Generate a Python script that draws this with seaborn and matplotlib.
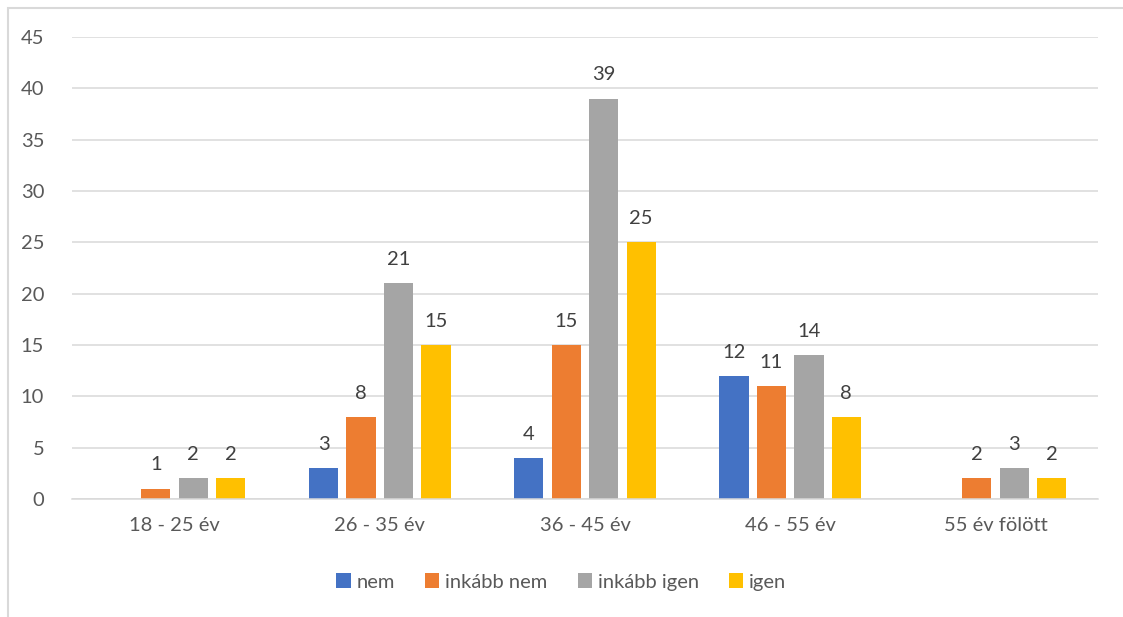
import matplotlib
matplotlib.use("Agg")
import matplotlib.pyplot as plt
from matplotlib.patches import Rectangle
import seaborn as sns
import pandas as pd

categories = ["18 - 25 év", "26 - 35 év", "36 - 45 év", "46 - 55 év", "55 év fölött"]
series = ["nem", "inkább nem", "inkább igen", "igen"]
nem = [0, 3, 4, 12, 0]
inkabb_nem = [1, 8, 15, 11, 2]
inkabb_igen = [2, 21, 39, 14, 3]
igen = [2, 15, 25, 8, 2]
colors = ["#4472C4", "#ED7D31", "#A5A5A5", "#FFC000"]

values = [nem, inkabb_nem, inkabb_igen, igen]
rows = []
for s, vals in zip(series, values):
    for c, v in zip(categories, vals):
        rows.append({"cat": c, "series": s, "val": v})
df = pd.DataFrame(rows)

sns.set_theme(style="white")
plt.rcParams["font.family"] = ["Lato", "DejaVu Sans"]

fig = plt.figure(figsize=(11.23, 6.17), dpi=100)
ax = fig.add_axes([72/1123, 118/617, 1026/1123, 462/617])

sns.barplot(data=df, x="cat", y="val", hue="series", order=categories,
            hue_order=series, palette=colors, width=0.73, gap=0.22,
            saturation=1, linewidth=0, ax=ax, legend=True)

for cont, vals in zip(ax.containers, values):
    labels = [f"{v:g}" if v > 0 else "" for v in vals]
    ax.bar_label(cont, labels=labels, padding=11, fontsize=14.5, color="#404040")

ax.set_ylim(0, 45)
ax.set_yticks(range(0, 46, 5))
ax.set_xlim(-0.5, len(categories) - 0.5)
ax.yaxis.grid(True, color="#D9D9D9", linewidth=1.1)
ax.set_axisbelow(True)
for sp in ["top", "right", "left"]:
    ax.spines[sp].set_visible(False)
ax.spines["bottom"].set_color("#D9D9D9")
ax.spines["bottom"].set_linewidth(1.1)
ax.tick_params(axis="both", length=0, labelsize=14.5, colors="#595959")
ax.tick_params(axis="x", pad=13)
ax.tick_params(axis="y", pad=20)
ax.set_xlabel("")
ax.set_ylabel("")

handles, labels = ax.get_legend_handles_labels()
ax.legend_.remove()
fig.legend(handles, labels, loc="center", bbox_to_anchor=(0.5, 1 - 582/617),
           ncol=4, frameon=False, fontsize=14.5, handlelength=0.7,
           handleheight=0.7, handletextpad=0.3, columnspacing=1.5,
           labelcolor="#595959")

fig.patches.append(Rectangle((8/1123, -0.1), 1.2, 1 - 8/617 + 0.1,
                             transform=fig.transFigure, fill=False,
                             edgecolor="#D9D9D9", linewidth=1.5))

fig.savefig("out.png", dpi=100)
